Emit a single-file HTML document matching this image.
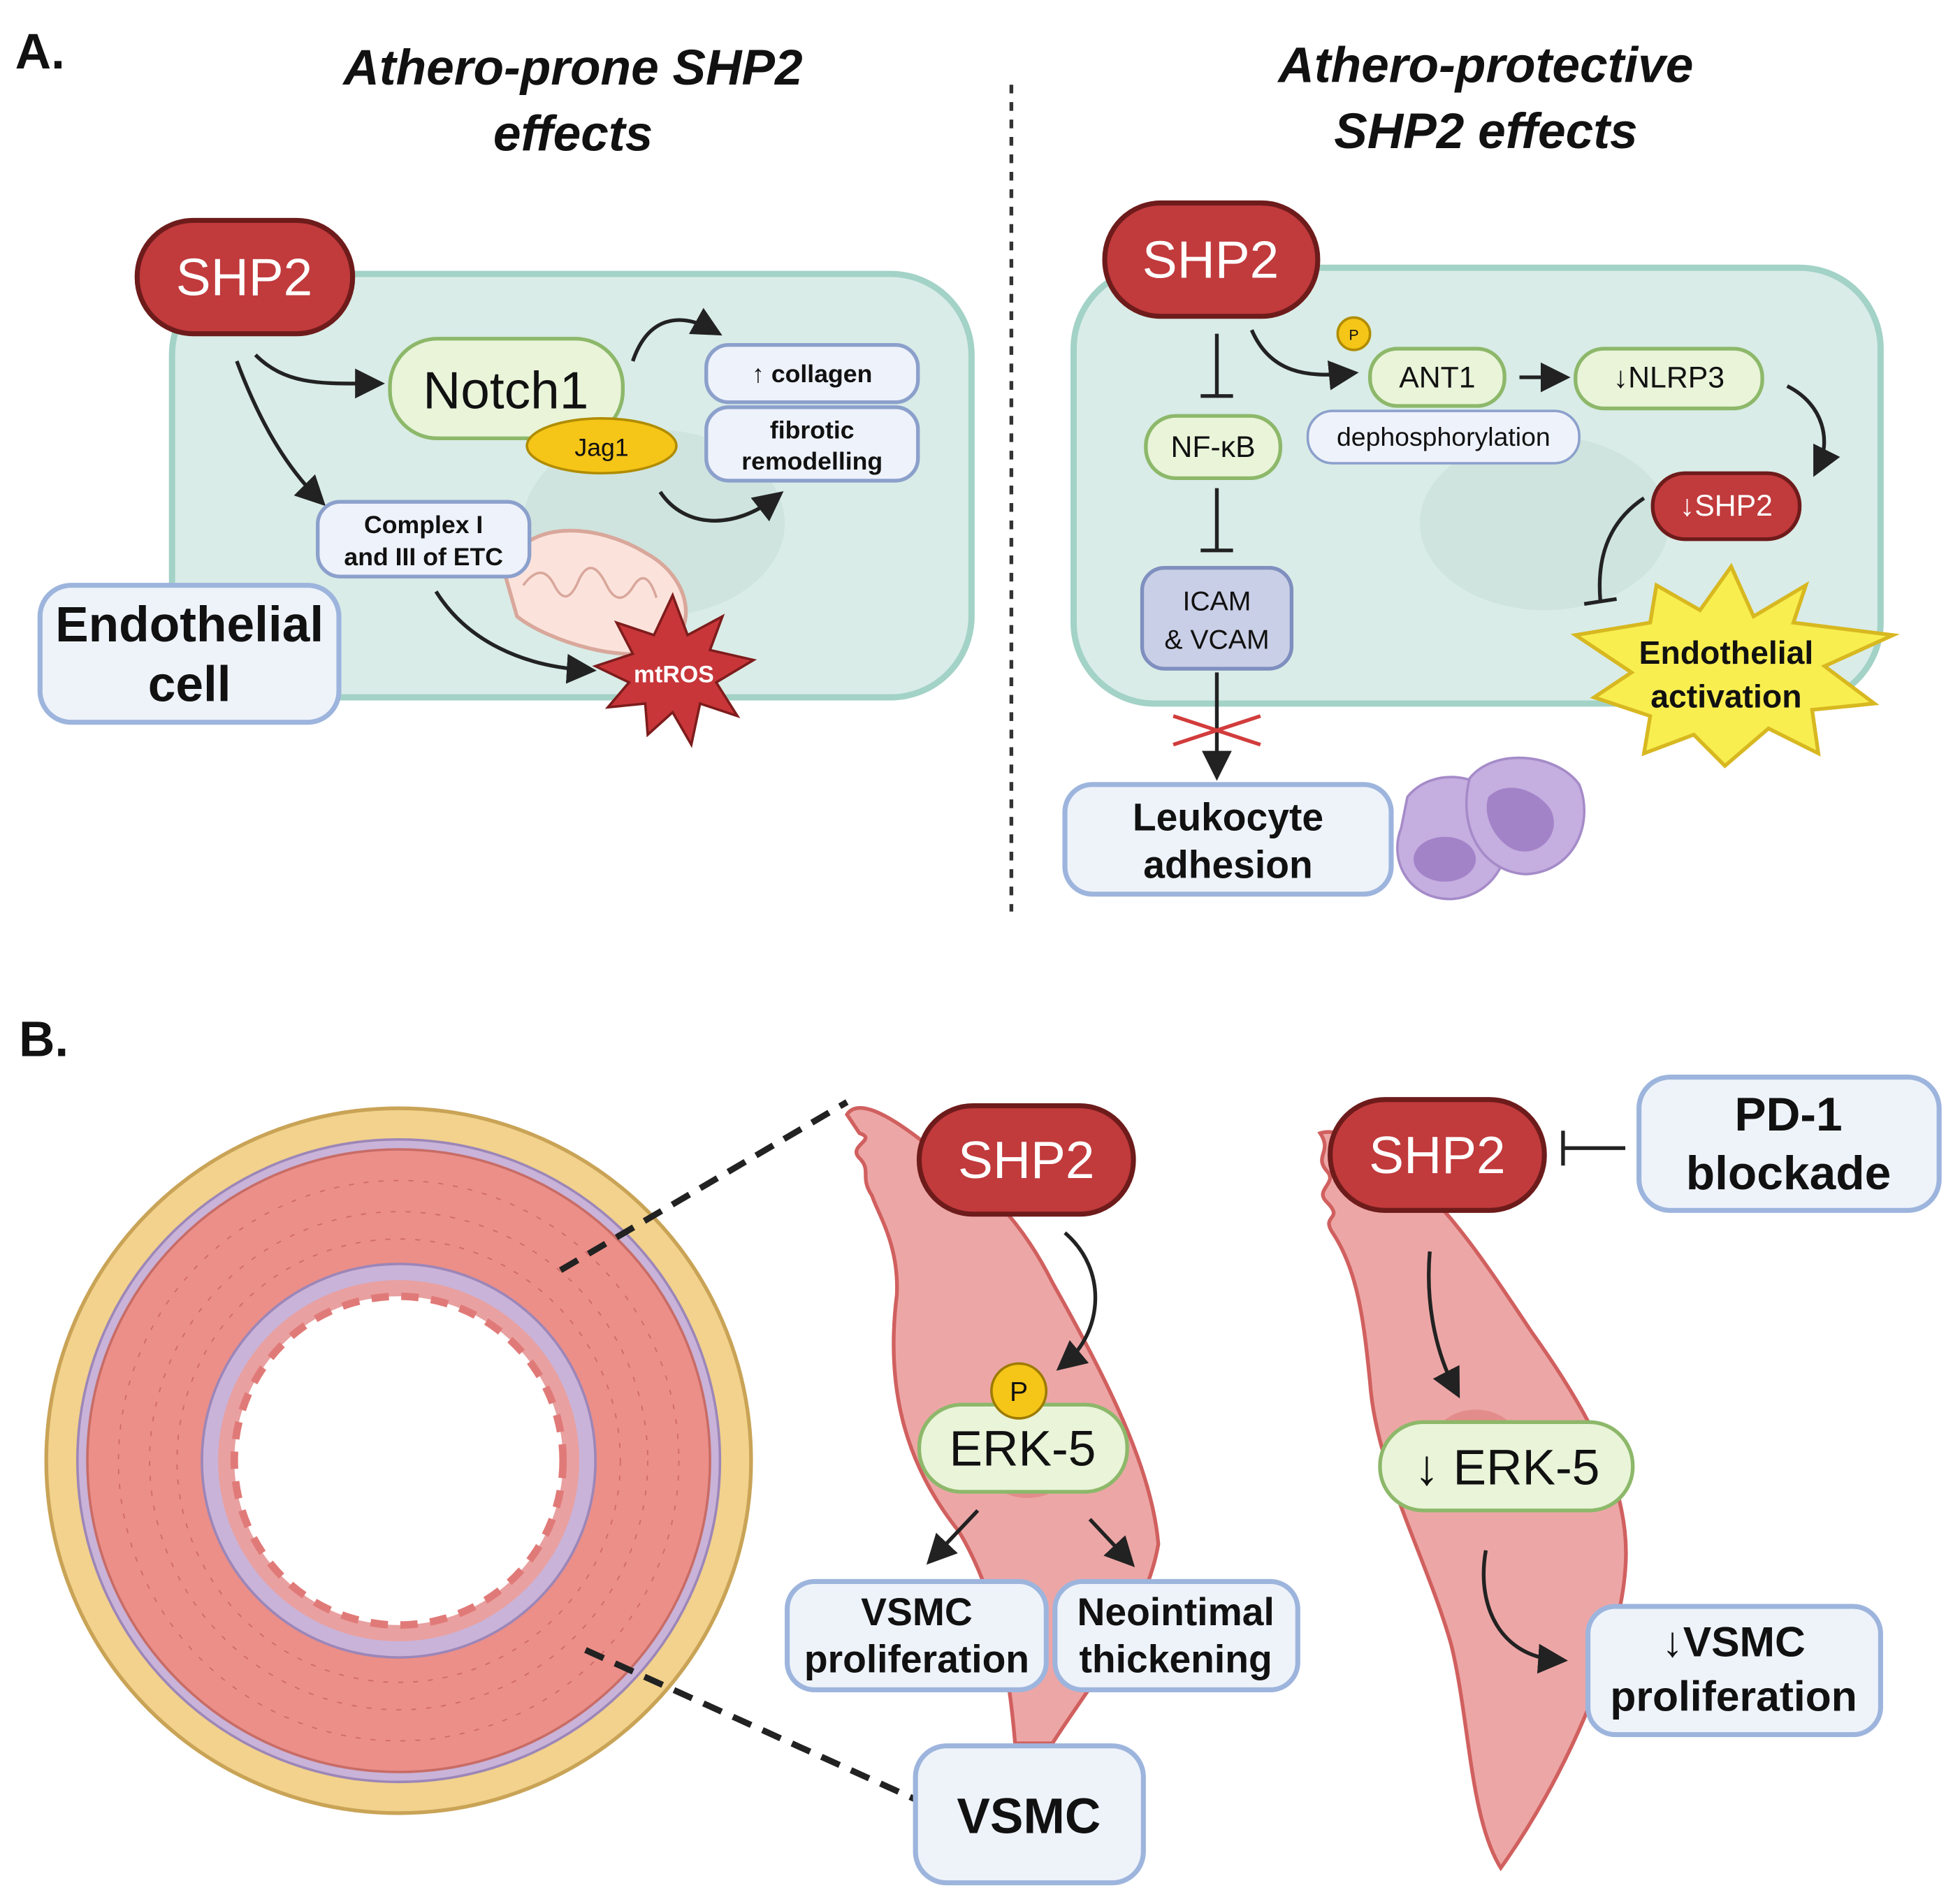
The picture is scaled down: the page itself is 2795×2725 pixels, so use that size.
<!DOCTYPE html>
<html><head><meta charset="utf-8"><style>
html,body{margin:0;padding:0;background:#fff;}
svg{display:block;}
text{font-family:"Liberation Sans",sans-serif;}
</style></head><body>
<svg width="2795" height="2725" viewBox="0 0 1568 1529" xmlns="http://www.w3.org/2000/svg">
<defs>
<marker id="ah" markerWidth="8" markerHeight="8" refX="5" refY="4" orient="auto" markerUnits="strokeWidth"><path d="M0,0 L8,4 L0,8 Z" fill="#222"/></marker>
</defs>
<rect width="1568" height="1529" fill="#fff"/>
<!-- Titles -->
<text x="12" y="55" font-size="40" font-weight="bold" fill="#111">A.</text>
<text x="460" y="68" font-size="40" font-weight="bold" font-style="italic" text-anchor="middle" fill="#111">Athero-prone SHP2</text>
<text x="460" y="121" font-size="40" font-weight="bold" font-style="italic" text-anchor="middle" fill="#111">effects</text>
<text x="1193" y="66" font-size="40" font-weight="bold" font-style="italic" text-anchor="middle" fill="#111">Athero-protective</text>
<text x="1193" y="119" font-size="40" font-weight="bold" font-style="italic" text-anchor="middle" fill="#111">SHP2 effects</text>
<line x1="812" y1="68" x2="812" y2="732" stroke="#333" stroke-width="3" stroke-dasharray="7,7"/>

<!-- Left cell -->
<rect x="138" y="220" width="642" height="340" rx="65" fill="#d9ece7" stroke="#a3d2c6" stroke-width="5"/>
<ellipse cx="525" cy="420" rx="105" ry="75" fill="#cfe4de"/>
<!-- mitochondria -->
<path d="M405,460 C420,415 480,420 520,445 C555,465 560,505 535,520 C505,535 440,515 415,495 Z" fill="#fbe3dc" stroke="#d9a79b" stroke-width="3"/>
<path d="M420,470 q15,-20 25,0 q10,20 20,-5 q10,-20 22,5 q10,20 22,0 q10,-15 18,10" fill="none" stroke="#d9a79b" stroke-width="2"/>
<!-- arrows left -->
<path d="M205,285 C230,310 260,308 300,308" fill="none" stroke="#222" stroke-width="3" marker-end="url(#ah)"/>
<path d="M190,290 C205,330 225,370 255,400" fill="none" stroke="#222" stroke-width="3" marker-end="url(#ah)"/>
<path d="M508,290 C520,255 545,250 572,265" fill="none" stroke="#222" stroke-width="3" marker-end="url(#ah)"/>
<path d="M530,395 C550,425 590,425 622,400" fill="none" stroke="#222" stroke-width="3" marker-end="url(#ah)"/>
<path d="M350,475 C375,515 420,535 470,538" fill="none" stroke="#222" stroke-width="3" marker-end="url(#ah)"/>
<rect x="313" y="272" width="187" height="80" rx="38" fill="#e9f4d9" stroke="#8db86a" stroke-width="3"/>
<text x="406" y="328" font-size="42" text-anchor="middle" fill="#111">Notch1</text>
<ellipse cx="483" cy="358" rx="60" ry="22" fill="#f5c518" stroke="#b08c00" stroke-width="2"/>
<text x="483" y="366" font-size="20" text-anchor="middle" fill="#111">Jag1</text>
<rect x="110" y="177" width="173" height="91" rx="45" fill="#c13a3c" stroke="#6e1b1b" stroke-width="4"/>
<text x="196" y="237" font-size="42" text-anchor="middle" fill="#fff">SHP2</text>
<rect x="567" y="277" width="170" height="46" rx="18" fill="#eef2fa" stroke="#8ca0cc" stroke-width="3"/>
<text x="652" y="307" font-size="20" font-weight="bold" text-anchor="middle" fill="#111">↑ collagen</text>
<rect x="567" y="327" width="170" height="59" rx="18" fill="#eef2fa" stroke="#8ca0cc" stroke-width="3"/>
<text x="652" y="352" font-size="20" font-weight="bold" text-anchor="middle" fill="#111">fibrotic</text>
<text x="652" y="377" font-size="20" font-weight="bold" text-anchor="middle" fill="#111">remodelling</text>
<rect x="255" y="403" width="170" height="60" rx="18" fill="#eef2fa" stroke="#8ca0cc" stroke-width="3"/>
<text x="340" y="428" font-size="20" font-weight="bold" text-anchor="middle" fill="#111">Complex I</text>
<text x="340" y="454" font-size="20" font-weight="bold" text-anchor="middle" fill="#111">and III of ETC</text>
<polygon points="540,478 552,510 580,495 570,522 605,530 575,548 592,575 562,565 555,598 540,572 520,590 518,565 488,568 505,548 478,535 508,525 495,500 525,510" fill="#c8363a" stroke="#7e1c1c" stroke-width="2"/>
<text x="541" y="548" font-size="19" font-weight="bold" text-anchor="middle" fill="#fff">mtROS</text>
<rect x="32" y="470" width="240" height="110" rx="25" fill="#eef3fa" stroke="#9db5dd" stroke-width="4"/>
<text x="152" y="515" font-size="40" font-weight="bold" text-anchor="middle" fill="#111">Endothelial</text>
<text x="152" y="563" font-size="40" font-weight="bold" text-anchor="middle" fill="#111">cell</text>

<!-- Right cell -->
<rect x="862" y="215" width="648" height="350" rx="65" fill="#d9ece7" stroke="#a3d2c6" stroke-width="5"/>
<ellipse cx="1240" cy="420" rx="100" ry="70" fill="#cfe4de"/>
<rect x="887" y="163" width="171" height="91" rx="45" fill="#c13a3c" stroke="#6e1b1b" stroke-width="4"/>
<text x="972" y="223" font-size="42" text-anchor="middle" fill="#fff">SHP2</text>
<line x1="977" y1="268" x2="977" y2="318" stroke="#222" stroke-width="3"/>
<line x1="964" y1="318" x2="990" y2="318" stroke="#222" stroke-width="3"/>
<path d="M1005,265 C1020,300 1050,303 1082,300" fill="none" stroke="#222" stroke-width="3" marker-end="url(#ah)"/>
<line x1="1220" y1="303" x2="1252" y2="303" stroke="#222" stroke-width="3" marker-end="url(#ah)"/>
<path d="M1435,310 C1465,325 1470,355 1460,375" fill="none" stroke="#222" stroke-width="3" marker-end="url(#ah)"/>
<path d="M1320,400 C1290,420 1282,450 1285,483" fill="none" stroke="#222" stroke-width="3"/>
<line x1="1272" y1="485" x2="1298" y2="481" stroke="#222" stroke-width="3"/>
<line x1="977" y1="392" x2="977" y2="442" stroke="#222" stroke-width="3"/>
<line x1="964" y1="442" x2="990" y2="442" stroke="#222" stroke-width="3"/>
<line x1="977" y1="540" x2="977" y2="618" stroke="#222" stroke-width="3" marker-end="url(#ah)"/>
<path d="M942,575 L1012,598 M942,598 L1012,575" stroke="#d23c3c" stroke-width="3"/>
<rect x="920" y="334" width="108" height="50" rx="24" fill="#e9f4d9" stroke="#8db86a" stroke-width="3"/>
<text x="974" y="367" font-size="24" text-anchor="middle" fill="#111">NF-κB</text>
<rect x="917" y="456" width="120" height="81" rx="18" fill="#c9cfe6" stroke="#7f8fbf" stroke-width="3"/>
<text x="977" y="490" font-size="22" text-anchor="middle" fill="#111">ICAM</text>
<text x="977" y="521" font-size="22" text-anchor="middle" fill="#111">&amp; VCAM</text>
<circle cx="1087" cy="268" r="13" fill="#f5c518" stroke="#b08c00" stroke-width="2"/>
<text x="1087" y="273" font-size="12" text-anchor="middle" fill="#111">P</text>
<rect x="1100" y="280" width="108" height="46" rx="22" fill="#e9f4d9" stroke="#8db86a" stroke-width="3"/>
<text x="1154" y="311" font-size="24" text-anchor="middle" fill="#111">ANT1</text>
<rect x="1050" y="330" width="218" height="42" rx="20" fill="#eef2fa" stroke="#8ca0cc" stroke-width="2"/>
<text x="1159" y="358" font-size="21" text-anchor="middle" fill="#111">dephosphorylation</text>
<rect x="1265" y="280" width="150" height="48" rx="23" fill="#e9f4d9" stroke="#8db86a" stroke-width="3"/>
<text x="1340" y="311" font-size="24" text-anchor="middle" fill="#111">↓NLRP3</text>
<rect x="1327" y="380" width="118" height="53" rx="26" fill="#c13a3c" stroke="#6e1b1b" stroke-width="3"/>
<text x="1386" y="414" font-size="24" text-anchor="middle" fill="#fff">↓SHP2</text>
<polygon points="1390,455 1408,495 1450,470 1440,500 1520,510 1465,535 1505,565 1455,570 1460,605 1420,585 1385,615 1360,590 1320,605 1325,575 1280,560 1310,540 1265,510 1325,500 1330,470 1365,490" fill="#f8ee50" stroke="#d8b820" stroke-width="3"/>
<text x="1386" y="533" font-size="26" font-weight="bold" text-anchor="middle" fill="#111">Endothelial</text>
<text x="1386" y="568" font-size="26" font-weight="bold" text-anchor="middle" fill="#111">activation</text>
<!-- leukocytes -->
<path d="M1130,640 C1150,615 1195,620 1205,650 C1220,685 1200,720 1165,722 C1130,722 1115,690 1125,665 Z" fill="#c5aee0" stroke="#a58bc8" stroke-width="2"/>
<path d="M1180,625 C1200,600 1250,605 1268,630 C1280,660 1265,700 1225,702 C1190,700 1170,665 1180,625 Z" fill="#c5aee0" stroke="#a58bc8" stroke-width="2"/>
<ellipse cx="1160" cy="690" rx="25" ry="18" fill="#a383c8"/>
<path d="M1195,640 C1210,625 1235,635 1245,650 C1255,670 1235,690 1215,682 C1200,675 1190,655 1195,640 Z" fill="#a383c8"/>
<rect x="855" y="630" width="262" height="88" rx="22" fill="#eef3fa" stroke="#9db5dd" stroke-width="4"/>
<text x="986" y="667" font-size="31" font-weight="bold" text-anchor="middle" fill="#111">Leukocyte</text>
<text x="986" y="705" font-size="31" font-weight="bold" text-anchor="middle" fill="#111">adhesion</text>

<!-- Part B -->
<text x="15" y="848" font-size="40" font-weight="bold" fill="#111">B.</text>
<circle cx="320" cy="1173" r="283" fill="#f2d28c" stroke="#c9a356" stroke-width="3"/>
<circle cx="320" cy="1173" r="258" fill="#c9b3d8" stroke="#9c86b8" stroke-width="2"/>
<circle cx="320" cy="1173" r="250" fill="#ec8f88" stroke="#c86c66" stroke-width="2"/>
<circle cx="320" cy="1173" r="158" fill="#c9b3d8" stroke="#9c86b8" stroke-width="2"/>
<circle cx="320" cy="1173" r="145" fill="#e9a0a0"/>
<circle cx="320" cy="1173" r="132" fill="#fff" stroke="#e07a78" stroke-width="6" stroke-dasharray="14,10"/>
<circle cx="320" cy="1173" r="200" fill="none" stroke="#d06a66" stroke-width="1" stroke-dasharray="4,8"/>
<circle cx="320" cy="1173" r="225" fill="none" stroke="#d06a66" stroke-width="1" stroke-dasharray="4,8"/>
<circle cx="320" cy="1173" r="178" fill="none" stroke="#d06a66" stroke-width="1" stroke-dasharray="4,8"/>
<line x1="450" y1="1020" x2="680" y2="885" stroke="#222" stroke-width="5" stroke-dasharray="16,10"/>
<line x1="470" y1="1325" x2="735" y2="1445" stroke="#222" stroke-width="5" stroke-dasharray="16,10"/>
<!-- cell 1 -->
<path d="M680,895 C690,880 720,900 745,920 C790,950 820,980 845,1030 C890,1110 925,1180 930,1240 C920,1300 870,1360 845,1400 L815,1400 C810,1340 800,1280 770,1230 C730,1180 710,1120 720,1040 C722,1000 705,975 700,960 C690,945 700,940 690,930 C680,920 705,915 690,910 Z" fill="#eda6a6" stroke="#d0605f" stroke-width="3"/>
<ellipse cx="825" cy="1175" rx="35" ry="28" fill="#e38c8c"/>
<!-- cell 2 -->
<path d="M1060,910 C1075,905 1100,920 1120,935 C1160,965 1190,1010 1230,1070 C1280,1140 1310,1200 1305,1260 C1300,1330 1255,1430 1205,1500 C1180,1460 1180,1380 1165,1320 C1145,1250 1105,1180 1100,1110 C1095,1060 1090,1020 1070,990 C1060,975 1080,980 1065,965 C1055,955 1075,950 1065,940 C1055,928 1070,925 1060,910 Z" fill="#eda6a6" stroke="#d0605f" stroke-width="3"/>
<ellipse cx="1185" cy="1160" rx="35" ry="28" fill="#e38c8c"/>
<path d="M855,990 C890,1020 885,1070 855,1095" fill="none" stroke="#222" stroke-width="3" marker-end="url(#ah)"/>
<path d="M1148,1005 C1145,1040 1150,1080 1168,1115" fill="none" stroke="#222" stroke-width="3" marker-end="url(#ah)"/>
<line x1="785" y1="1213" x2="750" y2="1250" stroke="#222" stroke-width="3" marker-end="url(#ah)"/>
<line x1="875" y1="1220" x2="905" y2="1252" stroke="#222" stroke-width="3" marker-end="url(#ah)"/>
<path d="M1193,1245 C1185,1290 1205,1330 1250,1333" fill="none" stroke="#222" stroke-width="3" marker-end="url(#ah)"/>
<line x1="1305" y1="922" x2="1255" y2="922" stroke="#222" stroke-width="3"/>
<line x1="1255" y1="908" x2="1255" y2="936" stroke="#222" stroke-width="3"/>
<rect x="738" y="888" width="172" height="87" rx="43" fill="#c13a3c" stroke="#6e1b1b" stroke-width="4"/>
<text x="824" y="946" font-size="42" text-anchor="middle" fill="#fff">SHP2</text>
<rect x="1068" y="883" width="172" height="89" rx="44" fill="#c13a3c" stroke="#6e1b1b" stroke-width="4"/>
<text x="1154" y="942" font-size="42" text-anchor="middle" fill="#fff">SHP2</text>
<rect x="1316" y="865" width="241" height="107" rx="25" fill="#eef3fa" stroke="#9db5dd" stroke-width="4"/>
<text x="1436" y="908" font-size="38" font-weight="bold" text-anchor="middle" fill="#111">PD-1</text>
<text x="1436" y="955" font-size="38" font-weight="bold" text-anchor="middle" fill="#111">blockade</text>
<rect x="738" y="1128" width="167" height="70" rx="34" fill="#e9f4d9" stroke="#8db86a" stroke-width="3"/>
<text x="821" y="1177" font-size="40" text-anchor="middle" fill="#111">ERK-5</text>
<circle cx="818" cy="1117" r="22" fill="#f5c518" stroke="#9c7b00" stroke-width="2"/>
<text x="818" y="1125" font-size="22" text-anchor="middle" fill="#111">P</text>
<rect x="1108" y="1142" width="203" height="71" rx="35" fill="#e9f4d9" stroke="#8db86a" stroke-width="3"/>
<text x="1210" y="1192" font-size="40" text-anchor="middle" fill="#111">↓ ERK-5</text>
<rect x="632" y="1270" width="208" height="87" rx="22" fill="#eef3fa" stroke="#9db5dd" stroke-width="4"/>
<text x="736" y="1305" font-size="31" font-weight="bold" text-anchor="middle" fill="#111">VSMC</text>
<text x="736" y="1343" font-size="31" font-weight="bold" text-anchor="middle" fill="#111">proliferation</text>
<rect x="847" y="1270" width="195" height="87" rx="22" fill="#eef3fa" stroke="#9db5dd" stroke-width="4"/>
<text x="944" y="1305" font-size="31" font-weight="bold" text-anchor="middle" fill="#111">Neointimal</text>
<text x="944" y="1343" font-size="31" font-weight="bold" text-anchor="middle" fill="#111">thickening</text>
<rect x="735" y="1402" width="183" height="110" rx="25" fill="#eef3fa" stroke="#9db5dd" stroke-width="4"/>
<text x="826" y="1472" font-size="40" font-weight="bold" text-anchor="middle" fill="#111">VSMC</text>
<rect x="1275" y="1290" width="235" height="103" rx="22" fill="#eef3fa" stroke="#9db5dd" stroke-width="4"/>
<text x="1392" y="1330" font-size="34" font-weight="bold" text-anchor="middle" fill="#111">↓VSMC</text>
<text x="1392" y="1374" font-size="34" font-weight="bold" text-anchor="middle" fill="#111">proliferation</text>
</svg>
</body></html>
